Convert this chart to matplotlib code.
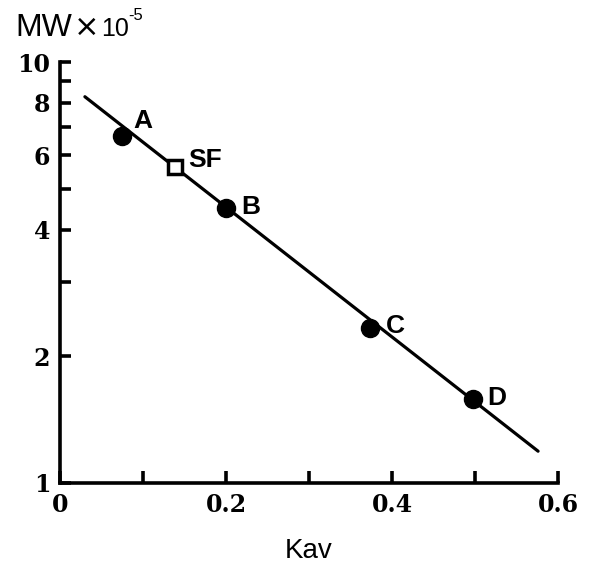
import matplotlib

matplotlib.use("Agg")
import matplotlib.pyplot as plt
from matplotlib.ticker import FixedLocator, NullFormatter

# Calibration standards and the unknown (SF)
names = ["A", "B", "C", "D"]
kav = [0.075, 0.20, 0.374, 0.498]
mw = [6.67, 4.49, 2.34, 1.58]

sf_kav = 0.139
sf_mw = 5.64

# fitted calibration line, drawn between its two ends
line_kav = [0.030, 0.576]
line_mw = [8.27, 1.19]

x_major = [0, 0.2, 0.4, 0.6]
x_minor = [0.1, 0.3, 0.5]
y_major = [1, 2, 4, 6, 8, 10]
y_minor = [3, 5, 7, 9]

# label offsets (points) for each letter
label_off = {"A": (8, 11), "B": (11, 1), "C": (11, 1), "D": (10, 1)}

fig = plt.figure(figsize=(5.97, 5.65), dpi=100)
ax = fig.add_axes([60 / 597, 1 - 483 / 565, 498 / 597, 421 / 565])

ax.plot(line_kav, line_mw, color="black", lw=2.3, solid_capstyle="round")
ax.plot(kav, mw, "o", color="black", ms=13)
ax.plot([sf_kav], [sf_mw], "s", mfc="white", mec="black", ms=9.5, mew=2.5)

for n, x, y in zip(names, kav, mw):
    ax.annotate(n, (x, y), xytext=label_off[n], textcoords="offset points",
                ha="left", va="center", fontsize=19, fontweight="bold",
                family="Liberation Sans")
ax.annotate("SF", (sf_kav, sf_mw), xytext=(9, 5), textcoords="offset points",
            ha="left", va="center", fontsize=19, fontweight="bold",
            family="Liberation Sans")

ax.set_yscale("log")
ax.set_xlim(0, 0.6)
ax.set_ylim(1, 10)

ax.xaxis.set_major_locator(FixedLocator(x_major))
ax.xaxis.set_minor_locator(FixedLocator(x_minor))
ax.yaxis.set_major_locator(FixedLocator(y_major))
ax.yaxis.set_minor_locator(FixedLocator(y_minor))
ax.set_xticklabels(["0", "0.2", "0.4", "0.6"])
ax.set_yticklabels([str(v) for v in y_major])
ax.yaxis.set_minor_formatter(NullFormatter())

for s in ("top", "right"):
    ax.spines[s].set_visible(False)
for s in ("left", "bottom"):
    ax.spines[s].set_linewidth(2.6)

ax.tick_params(which="both", direction="in", width=2.6, length=8)
ax.tick_params(axis="x", which="both", length=9, pad=7)
ax.tick_params(axis="y", which="both", pad=7)
for lab in ax.get_xticklabels() + ax.get_yticklabels():
    lab.set_family("DejaVu Serif")
    lab.set_fontweight("bold")
    lab.set_fontsize(17)

# y-axis caption, set piece by piece so the wide lettering lines up
base = 1 - 36 / 565
fig.text(15 / 597, base, "MW", fontsize=23, family="Liberation Sans",
         ha="left", va="baseline")
fig.text(74 / 597, 1 - 27 / 565, "\u00d7", fontsize=22, family="DejaVu Sans",
         ha="left", va="center")
fig.text(101 / 597, base, "10", fontsize=18, family="Liberation Sans",
         ha="left", va="baseline")
fig.text(128 / 597, 1 - 20 / 565, "-5", fontsize=12,
         family="Liberation Sans", ha="left", va="baseline")
fig.text(309 / 597, 1 - 551 / 565, "Kav", fontsize=20,
         family="Liberation Sans", ha="center", va="center")

fig.savefig("out.png", dpi=100)
